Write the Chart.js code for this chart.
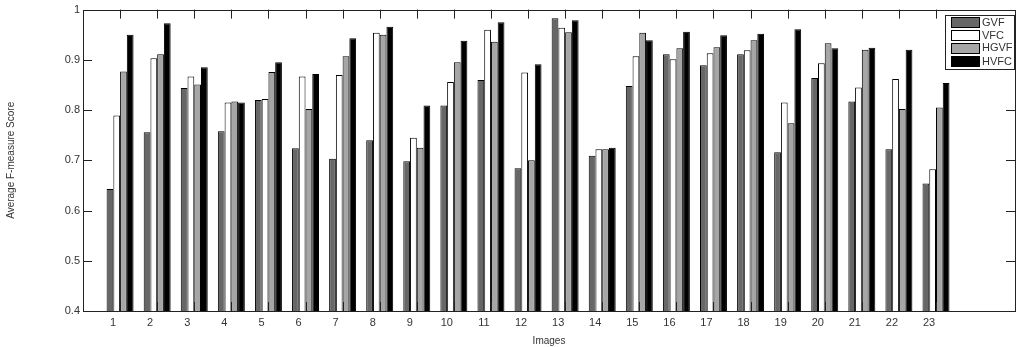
<!DOCTYPE html>
<html>
<head>
<meta charset="utf-8">
<script src="https://cdn.jsdelivr.net/npm/chart.js@4/dist/chart.umd.min.js"></script>
<style>
html,body{margin:0;padding:0;background:#fff;}
#wrap{width:1024px;height:347px;}
</style>
</head>
<body>
<div id="wrap"><canvas id="c" width="1024" height="347"></canvas></div>
<script>
const categories = [1,2,3,4,5,6,7,8,9,10,11,12,13,14,15,16,17,18,19,20,21,22,23];
const gvf  = [0.643,0.756,0.844,0.758,0.820,0.724,0.703,0.740,0.698,0.809,0.860,0.684,0.983,0.709,0.848,0.911,0.889,0.911,0.716,0.864,0.817,0.722,0.654];
const vfc  = [0.789,0.903,0.867,0.815,0.822,0.867,0.870,0.954,0.745,0.856,0.960,0.875,0.964,0.722,0.907,0.901,0.913,0.919,0.815,0.893,0.845,0.862,0.682];
const hgvf = [0.877,0.911,0.851,0.817,0.876,0.802,0.907,0.950,0.725,0.895,0.936,0.700,0.955,0.722,0.954,0.923,0.925,0.939,0.774,0.933,0.920,0.802,0.805];
const hvfc = [0.950,0.973,0.885,0.815,0.895,0.872,0.943,0.966,0.809,0.938,0.975,0.891,0.979,0.725,0.939,0.956,0.949,0.952,0.961,0.923,0.924,0.920,0.854];
const seriesNames = ['GVF','VFC','HGVF','HVFC'];
const yTicks = [0.4,0.5,0.6,0.7,0.8,0.9,1];

const colors = ['#676767','#ffffff','#a6a6a6','#000000'];
const series = [gvf, vfc, hgvf, hvfc];
const TXT = '#333333';
const FONT = '"Liberation Sans", Arial, sans-serif';

const datasets = series.map((arr, i) => ({
  label: seriesNames[i],
  data: arr.map((v, j) => ({x: categories[j], y: v})),
  backgroundColor: colors[i],
  borderColor: '#000000',
  borderWidth: 1,
  borderSkipped: 'start',
  base: 0.4,
  categoryPercentage: 0.727,
  barPercentage: 1.0
}));

const framePlugin = {
  id: 'frame',
  afterDraw(chart) {
    const ctx = chart.ctx;
    const a = chart.chartArea;
    const xs = chart.scales.x, ys = chart.scales.y;
    ctx.save();
    ctx.strokeStyle = '#222222';
    ctx.lineWidth = 1;
    ctx.strokeRect(Math.round(a.left) + 0.5, Math.round(a.top) + 0.5, Math.round(a.right - a.left), Math.round(a.bottom - a.top));
    const tl = 9;
    ctx.beginPath();
    categories.forEach(c => {
      const px = Math.round(xs.getPixelForValue(c)) + 0.5;
      ctx.moveTo(px, a.bottom); ctx.lineTo(px, a.bottom - tl);
      ctx.moveTo(px, a.top); ctx.lineTo(px, a.top + tl);
    });
    yTicks.forEach(v => {
      const py = Math.round(ys.getPixelForValue(v)) + 0.5;
      ctx.moveTo(a.left, py); ctx.lineTo(a.left + tl, py);
      ctx.moveTo(a.right, py); ctx.lineTo(a.right - tl, py);
    });
    ctx.stroke();

    // legend
    const lx = 945.5, ly = 15.5, lw = 69, lh = 54;
    ctx.fillStyle = '#ffffff';
    ctx.fillRect(lx, ly, lw, lh);
    ctx.strokeStyle = '#222222';
    ctx.strokeRect(lx, ly, lw, lh);
    const rows = [22.3, 35.3, 47.7, 61];
    ctx.font = '11px ' + FONT;
    ctx.textBaseline = 'middle';
    ctx.textAlign = 'left';
    chart.data.datasets.forEach((ds, i) => {
      const cy = rows[i];
      ctx.fillStyle = ds.backgroundColor;
      ctx.fillRect(951.5, Math.round(cy - 5) + 0.5, 28, 10);
      ctx.strokeStyle = '#000000';
      ctx.strokeRect(951.5, Math.round(cy - 5) + 0.5, 28, 10);
      ctx.fillStyle = TXT;
      ctx.fillText(ds.label, 982, cy + 0.5);
    });
    ctx.restore();
  }
};

new Chart(document.getElementById('c'), {
  type: 'bar',
  data: { datasets },
  options: {
    responsive: false,
    animation: false,
    layout: { padding: { top: 9, right: 9, left: 0, bottom: 0 } },
    plugins: { legend: { display: false }, tooltip: { enabled: false } },
    scales: {
      x: {
        type: 'linear',
        min: 0,
        max: 25.13,
        offset: false,
        grid: { display: false, drawTicks: false },
        border: { display: false },
        afterFit(s) { s.height = 36; },
        afterBuildTicks(s) { s.ticks = categories.map(v => ({value: v})); },
        ticks: {
          stepSize: 1,
          autoSkip: false,
          maxRotation: 0,
          padding: 5,
          labelOffset: -7,
          color: TXT,
          font: { size: 11, family: FONT },
          callback: v => String(v)
        },
        title: {
          display: true,
          text: 'Images',
          color: TXT,
          font: { size: 10, family: FONT },
          padding: { top: 0, bottom: 0 }
        }
      },
      y: {
        min: 0.4,
        max: 1,
        grid: { display: false, drawTicks: false },
        border: { display: false },
        afterFit(s) { s.width = 83; },
        afterBuildTicks(s) { s.ticks = yTicks.map(v => ({value: v})); },
        ticks: {
          stepSize: 0.1,
          padding: 3,
          color: TXT,
          font: { size: 11, family: FONT },
          callback: v => String(Number(v.toFixed(1)))
        },
        title: {
          display: true,
          text: 'Average F-measure Score',
          color: TXT,
          font: { size: 10, family: FONT },
          padding: { top: 5, bottom: 0 }
        }
      }
    }
  },
  plugins: [framePlugin]
});
</script>
</body>
</html>
